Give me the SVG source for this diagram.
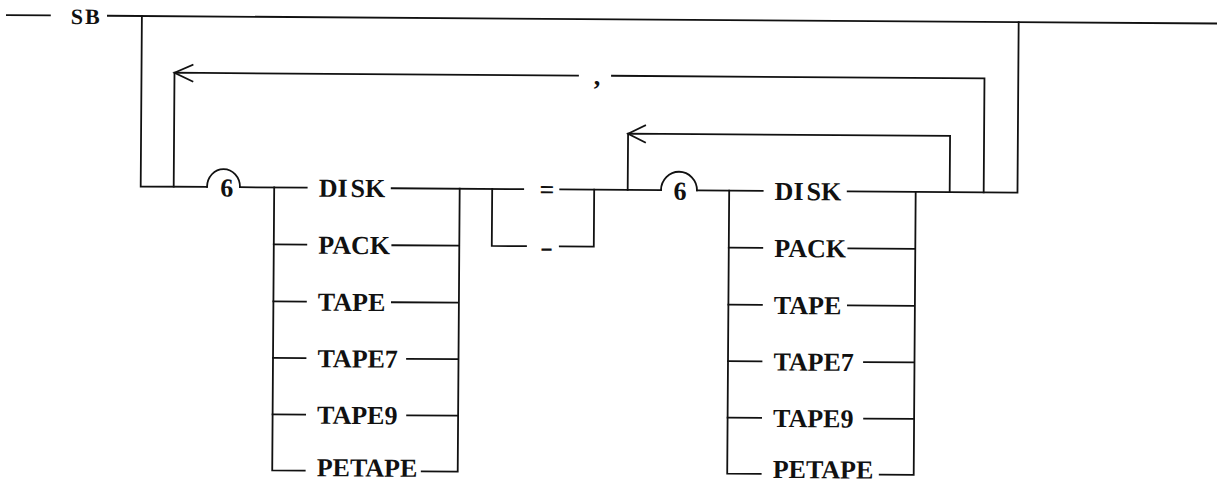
<svg xmlns="http://www.w3.org/2000/svg" width="1217" height="484" viewBox="0 0 1217 484">
<style>
.c{fill:none;stroke:#111;stroke-width:1.8;stroke-linecap:square;stroke-linejoin:miter}
.t{font-family:"Liberation Serif","Times New Roman",serif;font-weight:bold;font-size:26px;fill:#111}
.s{font-family:"Liberation Serif","Times New Roman",serif;font-weight:bold;font-size:22px;letter-spacing:2px;fill:#111}
.n{font-family:"Liberation Serif","Times New Roman",serif;font-weight:bold;font-size:26px;fill:#111;text-anchor:middle}
</style>
<rect width="1217" height="484" fill="#fff"/>
<g transform="rotate(0.4)">
<g id="connectors" class="c">
<path d="M7,15 H50"/>
<path d="M108,15 H1230"/>
<path d="M142,15 V185.5 H208.3"/>
<path d="M208.3,185.5 A16.5,18 0 0 1 241.3,185.5"/>
<path d="M241.3,185.5 H308"/>
<path d="M275.5,185.5 V468.5 H308"/>
<path d="M275.5,242.5 H308 M275.5,299.5 H308 M275.5,356 H308 M275.5,412.5 H308"/>
<path d="M393,185.5 H524.5"/>
<path d="M394,242.5 H461 M394,299.5 H461 M409.5,356 H461 M410,412.5 H461 M425,468.5 H461 V185.5"/>
<path d="M493.5,185.5 V242.5 H527.7"/>
<path d="M561.5,185.5 H662.3"/>
<path d="M561.5,242.5 H595.5 V185.5"/>
<path d="M662.3,185.5 A18,18.5 0 0 1 698.3,185.5"/>
<path d="M698.3,185.5 H764"/>
<path d="M730.5,185.5 V468.5 H764"/>
<path d="M730.5,242.5 H764 M730.5,299.5 H764 M730.5,356 H764 M730.5,412.5 H764"/>
<path d="M849,185.5 H1018.8 V15"/>
<path d="M850,242.5 H917 M850,299.5 H917 M866.5,356 H917 M867,412.5 H917 M883,468.5 H917 V185.5"/>
<path d="M951,185.5 V129.3 H629 V185.5"/>
<path d="M646,121 L629,129.3 L646,137.8"/>
<path d="M985,185.5 V71.5 H612.5"/>
<path d="M578.5,71.5 H175 V185.5"/>
<path d="M193,63.5 L175,71.5 L193,80"/>
</g>
<g id="sb"><text class="s" x="71" y="23.5">SB</text></g>
<g id="repeat1"><text class="n" x="228" y="195">6</text></g>
<g id="a-disk"><text class="t" x="320" y="194.5">DI<tspan dx="3">SK</tspan></text></g>
<g id="a-pack"><text class="t" x="320" y="251.5">PACK</text></g>
<g id="a-tape"><text class="t" x="320" y="308.5">TAPE</text></g>
<g id="a-tape7"><text class="t" x="320" y="365">TAPE7</text></g>
<g id="a-tape9"><text class="t" x="320" y="421.5">TAPE9</text></g>
<g id="a-petape"><text class="t" x="320" y="474">PETAPE</text></g>
<g id="eq"><text class="t" x="548.3" y="194.5" text-anchor="middle">=</text></g>
<g id="minus"><text class="t" x="541.7" y="252" textLength="13" lengthAdjust="spacingAndGlyphs">-</text></g>
<g id="comma"><text class="t" x="597.6" y="80.5" text-anchor="middle">,</text></g>
<g id="repeat2"><text class="n" x="681.3" y="195">6</text></g>
<g id="b-disk"><text class="t" x="776" y="194.5">DI<tspan dx="3">SK</tspan></text></g>
<g id="b-pack"><text class="t" x="776" y="251.5">PACK</text></g>
<g id="b-tape"><text class="t" x="776" y="308.5">TAPE</text></g>
<g id="b-tape7"><text class="t" x="776" y="365">TAPE7</text></g>
<g id="b-tape9"><text class="t" x="776" y="421.5">TAPE9</text></g>
<g id="b-petape"><text class="t" x="776" y="472.5">PETAPE</text></g>
</g>
</svg>
